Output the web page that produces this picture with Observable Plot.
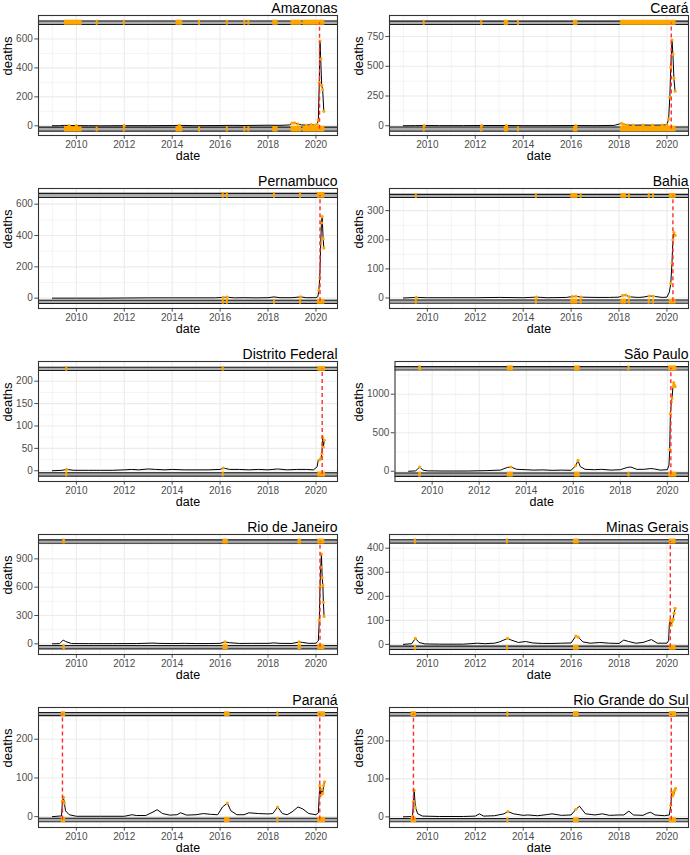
<!DOCTYPE html>
<html><head><meta charset="utf-8">
<script src="https://cdn.jsdelivr.net/npm/d3@7"></script>
<script src="https://cdn.jsdelivr.net/npm/@observablehq/plot@0.6"></script>
<style>
body{margin:0;background:#fff;overflow:hidden}
#wrap{position:relative;width:690px;height:855px;overflow:hidden;background:#fff;font-family:"Liberation Sans",Arial,sans-serif}
#wrap svg{position:absolute}
</style></head><body><div id="wrap"></div>
<script>
// ---- data (decimal years, weekly deaths) ----
const stateNames = ["Amazonas","Ceará","Pernambuco","Bahia","Distrito Federal","São Paulo","Rio de Janeiro","Minas Gerais","Paraná","Rio Grande do Sul"];
const xTickYears = [2010, 2012, 2014, 2016, 2018, 2020];
const xRange = [2008.42, 2020.9];

const amazonasWeeks  = [2009.0,2009.3,2009.5,2009.7,2010.0,2010.5,2011.0,2012.0,2013.0,2014.0,2014.3,2015.0,2016.0,2016.5,2017.0,2017.5,2018.0,2018.5,2018.9,2019.0,2019.1,2019.25,2019.4,2019.6,2019.8,2019.95,2020.05,2020.1,2020.14,2020.17,2020.2,2020.24,2020.28,2020.33];
const amazonasDeaths = [0,1,3,2,1,1,0,1,1,2,3,1,2,3,2,3,4,3,6,18,20,12,6,5,8,5,10,40,300,585,460,280,250,100];
const amazonasAnomalies = [[2009.55,2010.2],[2010.87,2010.87],[2012.0,2012.0],[2014.2,2014.4],[2015.14,2015.14],[2016.3,2016.3],[2017.03,2017.03],[2017.2,2017.2],[2018.24,2018.38],[2019.0,2019.36],[2019.5,2020.33]];
const amazonasAlarms = [2020.15];

const cearaWeeks  = [2009.0,2009.5,2009.87,2010.5,2011.5,2012.27,2013.3,2014,2015,2016.2,2017,2017.8,2018.1,2018.2,2018.35,2018.6,2019.0,2019.4,2019.8,2020.0,2020.07,2020.12,2020.16,2020.21,2020.25,2020.29,2020.34];
const cearaDeaths = [0,1,2,1,1,2,2,1,1,2,1,3,20,12,6,5,6,5,6,8,55,240,490,720,600,400,290];
const cearaAnomalies = [[2009.87,2009.87],[2012.27,2012.27],[2013.25,2013.35],[2013.8,2013.8],[2016.14,2016.24],[2018.1,2020.34]];
const cearaAlarms = [2020.18];

const pernambucoWeeks  = [2009.0,2010,2011,2012,2013,2014,2015,2015.8,2016.13,2016.3,2016.6,2017,2017.5,2018.0,2018.25,2018.5,2019.0,2019.36,2019.6,2020.0,2020.08,2020.12,2020.16,2020.2,2020.23,2020.26,2020.3,2020.33];
const pernambucoDeaths = [0,0,0,1,2,2,2,2,5,6,2,3,2,3,8,3,3,8,3,3,10,50,130,350,480,520,380,320];
const pernambucoAnomalies = [[2016.13,2016.13],[2016.3,2016.3],[2018.27,2018.27],[2019.36,2019.36],[2020.1,2020.33]];
const pernambucoAlarms = [2020.17];

const bahiaWeeks  = [2009.0,2009.54,2010,2011,2012,2013,2014,2014.55,2015,2015.8,2016.05,2016.2,2016.42,2017,2017.6,2018.0,2018.15,2018.28,2018.43,2018.8,2019.0,2019.26,2019.44,2019.8,2020.0,2020.1,2020.16,2020.21,2020.25,2020.29,2020.34];
const bahiaDeaths = [0,2,1,1,1,2,1,3,1,2,5,6,3,2,2,3,9,10,4,2,3,7,6,2,3,20,50,120,200,225,215];
const bahiaAnomalies = [[2009.54,2009.54],[2014.55,2014.55],[2016.03,2016.24],[2016.42,2016.42],[2018.12,2018.27],[2018.43,2018.43],[2019.26,2019.26],[2019.44,2019.44],[2020.14,2020.34]];
const bahiaAlarms = [2020.25];

const distritoWeeks  = [2009.0,2009.4,2009.6,2009.9,2010.5,2011.0,2011.5,2012.0,2012.3,2012.6,2013.0,2013.3,2013.7,2014.0,2014.5,2015.0,2015.5,2016.0,2016.13,2016.4,2016.8,2017.2,2017.6,2018.0,2018.4,2018.8,2019.2,2019.6,2019.9,2020.05,2020.1,2020.15,2020.2,2020.25,2020.28,2020.31,2020.35];
const distritoDeaths = [0,1,3,1,1,1,1,2,3,2,4,3,2,3,2,2,2,3,6,3,3,2,3,2,4,2,3,3,2,9,25,24,27,38,75,53,68];
const distritoAnomalies = [[2009.6,2009.6],[2016.13,2016.13],[2020.12,2020.36]];
const distritoAlarms = [2020.26];

const saoPauloWeeks  = [2009.0,2009.3,2009.47,2009.6,2009.8,2010.5,2011.5,2012.3,2012.9,2013.2,2013.35,2013.6,2014.0,2014.3,2014.7,2015.1,2015.5,2015.9,2016.1,2016.2,2016.3,2016.5,2016.9,2017.2,2017.6,2018.0,2018.3,2018.45,2018.7,2019.0,2019.3,2019.45,2019.7,2020.0,2020.07,2020.1,2020.13,2020.17,2020.2,2020.24,2020.27,2020.3,2020.33];
const saoPauloDeaths = [0,5,55,15,5,3,3,8,15,50,55,25,20,15,18,12,15,12,70,140,60,25,20,25,15,20,50,55,25,25,35,30,15,20,80,280,750,900,950,1100,1150,1120,1100];
const saoPauloAnomalies = [[2009.47,2009.5],[2013.24,2013.41],[2016.1,2016.25],[2018.37,2018.37],[2020.1,2020.36]];
const saoPauloAlarms = [2020.15];

const rioWeeks  = [2009.0,2009.3,2009.45,2009.55,2009.8,2010.5,2011.5,2012.5,2013.2,2013.4,2014,2014.5,2015,2015.5,2016.0,2016.2,2016.4,2016.8,2017.3,2018.0,2018.24,2018.5,2019.0,2019.3,2019.45,2019.7,2020.0,2020.1,2020.14,2020.17,2020.2,2020.23,2020.26,2020.29,2020.31,2020.34];
const rioDeaths = [0,2,40,25,3,2,2,3,8,5,3,5,3,3,5,20,12,4,5,5,10,5,4,20,15,5,6,30,250,600,810,950,700,620,440,290];
const rioAnomalies = [[2009.48,2009.5],[2016.16,2016.3],[2019.29,2019.36],[2020.12,2020.33]];
const rioAlarms = [2020.17];

const minasWeeks  = [2009.0,2009.35,2009.5,2009.65,2009.9,2010.5,2011.5,2012.1,2012.4,2012.8,2013.0,2013.35,2013.5,2013.8,2014.1,2014.4,2014.8,2015.2,2015.6,2016.0,2016.2,2016.3,2016.5,2016.8,2017.2,2017.6,2018.0,2018.2,2018.4,2018.7,2019.0,2019.2,2019.35,2019.6,2020.0,2020.07,2020.1,2020.14,2020.18,2020.22,2020.26,2020.3,2020.34];
const minasDeaths = [0,3,25,8,2,1,1,5,3,5,10,25,18,8,12,6,4,4,5,6,35,30,10,5,8,5,4,18,12,5,8,15,20,5,5,15,85,100,80,95,105,130,150];
const minasAnomalies = [[2009.5,2009.5],[2013.34,2013.34],[2016.14,2016.29],[2020.14,2020.34]];
const minasAlarms = [2020.14];

const paranaWeeks  = [2009.0,2009.38,2009.42,2009.46,2009.5,2009.55,2009.7,2010.0,2011.0,2012.0,2012.33,2012.5,2012.9,2013.2,2013.37,2013.6,2013.9,2014.2,2014.35,2014.6,2015.0,2015.3,2015.6,2015.9,2016.1,2016.3,2016.45,2016.7,2017.0,2017.2,2017.6,2018.0,2018.2,2018.4,2018.6,2018.8,2019.0,2019.25,2019.45,2019.7,2020.0,2020.1,2020.16,2020.2,2020.24,2020.28,2020.32,2020.36];
const paranaDeaths = [0,2,40,50,35,15,5,1,1,1,5,3,3,12,18,8,4,5,10,4,5,8,6,5,25,35,15,5,5,10,8,7,8,25,8,5,12,25,20,8,5,10,80,55,70,60,80,90];
const paranaAnomalies = [[2009.41,2009.51],[2016.23,2016.37],[2018.41,2018.41],[2020.12,2020.36]];
const paranaAlarms = [2009.42, 2020.16];

const rgsWeeks  = [2009.0,2009.38,2009.42,2009.45,2009.5,2009.6,2009.8,2010.5,2011.5,2012.0,2012.17,2012.35,2012.8,2013.2,2013.36,2013.6,2014.0,2014.2,2014.6,2015.0,2015.2,2015.6,2016.0,2016.2,2016.35,2016.6,2017.0,2017.3,2017.6,2018.0,2018.2,2018.41,2018.6,2019.0,2019.2,2019.32,2019.5,2019.9,2020.1,2020.16,2020.2,2020.24,2020.28,2020.32,2020.36];
const rgsDeaths = [0,1,40,70,25,8,2,1,1,2,8,2,3,8,14,8,4,5,3,6,8,4,5,20,28,8,5,8,4,5,5,15,5,4,10,12,5,3,5,30,65,55,60,70,75];
const rgsAnomalies = [[2009.36,2009.5],[2013.36,2013.36],[2016.14,2016.29],[2020.14,2020.36]];
const rgsAlarms = [2009.42, 2020.18];

// y scale limits, bands (upper / lower reference bands) and tick labels, in deaths
const yLimits   = [[-67,762],[-82,927],[-66,700],[-36,376],[-24,244],[-133,1425],[-113,1158],[-42,457],[-28,282],[-28,288]];
const upperBand = [[700,724],[851,880],[643,669],[345,356],[224,231],[1314,1358],[1066,1101],[421,435],[261,269],[266,275]];
const lowerBand = [[-37,-9],[-45,-11],[-34,-13],[-18,-7],[-12,-4.4],[-66,-22],[-53,-18],[-21,-7],[-13,-4],[-13,-4.4]];
const yTickValues = [[0,200,400,600],[0,250,500,750],[0,200,400,600],[0,100,200,300],[0,50,100,150,200],[0,500,1000],[0,300,600,900],[0,100,200,300,400],[0,100,200],[0,100,200]];

const seriesWeeks = [amazonasWeeks,cearaWeeks,pernambucoWeeks,bahiaWeeks,distritoWeeks,saoPauloWeeks,rioWeeks,minasWeeks,paranaWeeks,rgsWeeks];
const seriesDeaths = [amazonasDeaths,cearaDeaths,pernambucoDeaths,bahiaDeaths,distritoDeaths,saoPauloDeaths,rioDeaths,minasDeaths,paranaDeaths,rgsDeaths];
const seriesAnomalies = [amazonasAnomalies,cearaAnomalies,pernambucoAnomalies,bahiaAnomalies,distritoAnomalies,saoPauloAnomalies,rioAnomalies,minasAnomalies,paranaAnomalies,rgsAnomalies];
const seriesAlarms = [amazonasAlarms,cearaAlarms,pernambucoAlarms,bahiaAlarms,distritoAlarms,saoPauloAlarms,rioAlarms,minasAlarms,paranaAlarms,rgsAlarms];

// ---- drawing ----
const wrap = document.getElementById("wrap");
const FONT = "'Liberation Sans', Arial, sans-serif";
const GRID = "#ebebeb";

function minorOf(ticks, domain) {
  const step = ticks[1] - ticks[0];
  const m = [ticks[0] - step / 2, ...ticks.map(t => t + step / 2)];
  return m.filter(v => v > domain[0] && v < domain[1]);
}

stateNames.forEach((name, i) => {
  const col = i % 2, row = Math.floor(i / 2);
  const data = seriesWeeks[i].map((w, k) => ({date: w, deaths: seriesDeaths[i][k]}));
  const anoms = seriesAnomalies[i];
  const isAnom = d => anoms.some(([a, b]) => d.date >= a - 0.012 && d.date <= b + 0.012);
  const bands = [upperBand[i], lowerBand[i]].map(([lo, hi]) => ({lo, hi}));
  const anomRects = anoms.flatMap(([a, b]) => bands.map(bd => ({a, b, lo: bd.lo, hi: bd.hi})));
  const yDomain = yLimits[i];
  const ticks = yTickValues[i];
  const maxLabelLen = d3.max(ticks, t => String(t).length);
  const marginLeft = 38 + (maxLabelLen - 3) * 5.5;
  const width = col === 0 ? 345 : 339;
  const marginRight = col === 0 ? 8 : 2;
  const upMid = (upperBand[i][0] + upperBand[i][1]) / 2;
  const loMid = (lowerBand[i][0] + lowerBand[i][1]) / 2;
  const xMinor = minorOf(xTickYears, xRange);
  const yMinor = minorOf(ticks, yDomain);

  const svg = Plot.plot({
    width, height: 173,
    marginTop: 15, marginBottom: 38, marginLeft, marginRight,
    style: {fontFamily: FONT, fontSize: "10px", color: "#4d4d4d", background: "white"},
    x: {domain: xRange, ticks: xTickYears, tickFormat: d => String(d), tickSize: 3.7, tickPadding: 1.5, label: null},
    y: {domain: yDomain, ticks: ticks, tickFormat: d => String(d), tickSize: 3.7, tickPadding: 2, label: null},
    marks: [
      Plot.ruleX(xMinor, {stroke: GRID, strokeWidth: 0.55}),
      Plot.ruleY(yMinor, {stroke: GRID, strokeWidth: 0.55}),
      Plot.ruleX(xTickYears, {stroke: GRID, strokeWidth: 1.1}),
      Plot.ruleY(ticks, {stroke: GRID, strokeWidth: 1.1}),
      Plot.rect(bands, {x1: () => xRange[0], x2: () => xRange[1], y1: "lo", y2: "hi", fill: "#ababab"}),
      Plot.ruleY(bands.flatMap(b => [b.lo, b.hi]), {stroke: "#1a1a1a", strokeWidth: 1.1}),
      Plot.rect(anomRects, {x1: "a", x2: "b", y1: "lo", y2: "hi", fill: "orange", insetLeft: -1, insetRight: -1, insetTop: -0.8, insetBottom: -0.8}),
      Plot.line(data, {x: "date", y: "deaths", stroke: "black", strokeWidth: 1}),
      Plot.dot(data.filter(isAnom), {x: "date", y: "deaths", r: 1.6, fill: "orange", stroke: "none"}),
      Plot.ruleX(seriesAlarms[i], {y1: () => loMid, y2: () => upMid, stroke: "#ff2b2b", strokeWidth: 1.4, strokeDasharray: "4,3"}),
      Plot.frame({stroke: "#333333", strokeWidth: 1.1}),
      Plot.text([name], {frameAnchor: "top-right", dy: -3, lineAnchor: "bottom", textAnchor: "end", fontSize: 14, fill: "black"}),
      Plot.text(["deaths"], {frameAnchor: "left", dx: -(marginLeft - 7), rotate: -90, fontSize: 13, fill: "black"}),
      Plot.text(["date"], {frameAnchor: "bottom", dy: 24, fontSize: 12.5, fill: "black"})
    ]
  });
  svg.style.left = (col === 0 ? 0 : 351) + "px";
  svg.style.top = Math.round(173.1 * row) + "px";
  wrap.appendChild(svg);
});
</script>
</body></html>
